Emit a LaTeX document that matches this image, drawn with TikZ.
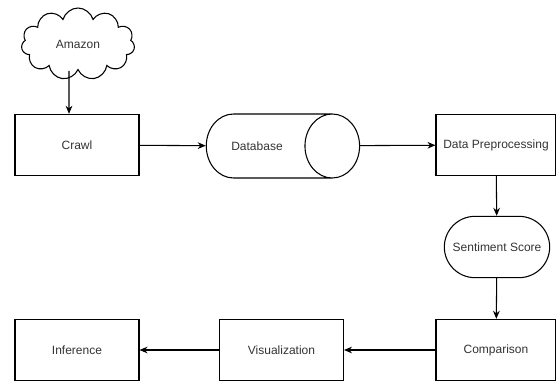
\documentclass[tikz,border=0pt]{standalone}
\usepackage{fontspec}
\setmainfont{Liberation Sans}
\usetikzlibrary{shapes.geometric,shapes.symbols,shapes.misc,arrows.meta}
\tikzset{
  stepbox/.style={draw, minimum width=93pt, minimum height=46pt, inner sep=0pt},
  arr/.style={-{Stealth[length=6pt,width=5pt]}}
}
\begin{document}
\begin{tikzpicture}[x=0.75pt, y=-0.75pt, line width=0.8pt,
    every node/.style={font=\fontsize{9}{11}\selectfont, text=black!80}]
  \useasboundingbox (0,0) rectangle (556,381);
  % top row: source, crawler, store
  \node[draw, cloud, cloud puffs=11, aspect=1.6, minimum width=85pt, minimum height=54pt, inner sep=0pt] (amazon) at (78,44) {Amazon};
  \node[stepbox] (crawl) at (77,145) {Crawl};
  \node[draw, cylinder, aspect=6.2, minimum width=48pt, minimum height=115pt, inner sep=0pt] (db) at (269,146) {\hspace*{-18pt}Database};
  \node[stepbox, minimum width=90pt] (prep) at (496,145) {Data Preprocessing};
  % right column down
  \node[draw, rounded rectangle, minimum width=79pt, minimum height=46pt, inner sep=0pt] (senti) at (497,247) {Sentiment Score};
  \node[stepbox, minimum width=90pt] (cmp) at (496,350) {Comparison};
  % bottom row, right to left
  \node[stepbox] (vis) at (281.5,350) {Visualization};
  \node[stepbox] (infer) at (77,350) {Inference};
  \draw[arr] ([xshift=-6.75pt]amazon.south) -- ([xshift=-6pt]crawl.north);
  \draw[arr] (crawl) -- (db);
  \draw[arr] (db) -- (prep);
  \draw[arr] (prep) -- (senti);
  \draw[arr] (senti) -- (cmp);
  \draw[arr] (cmp) -- (vis);
  \draw[arr] (vis) -- (infer);
\end{tikzpicture}
\end{document}
